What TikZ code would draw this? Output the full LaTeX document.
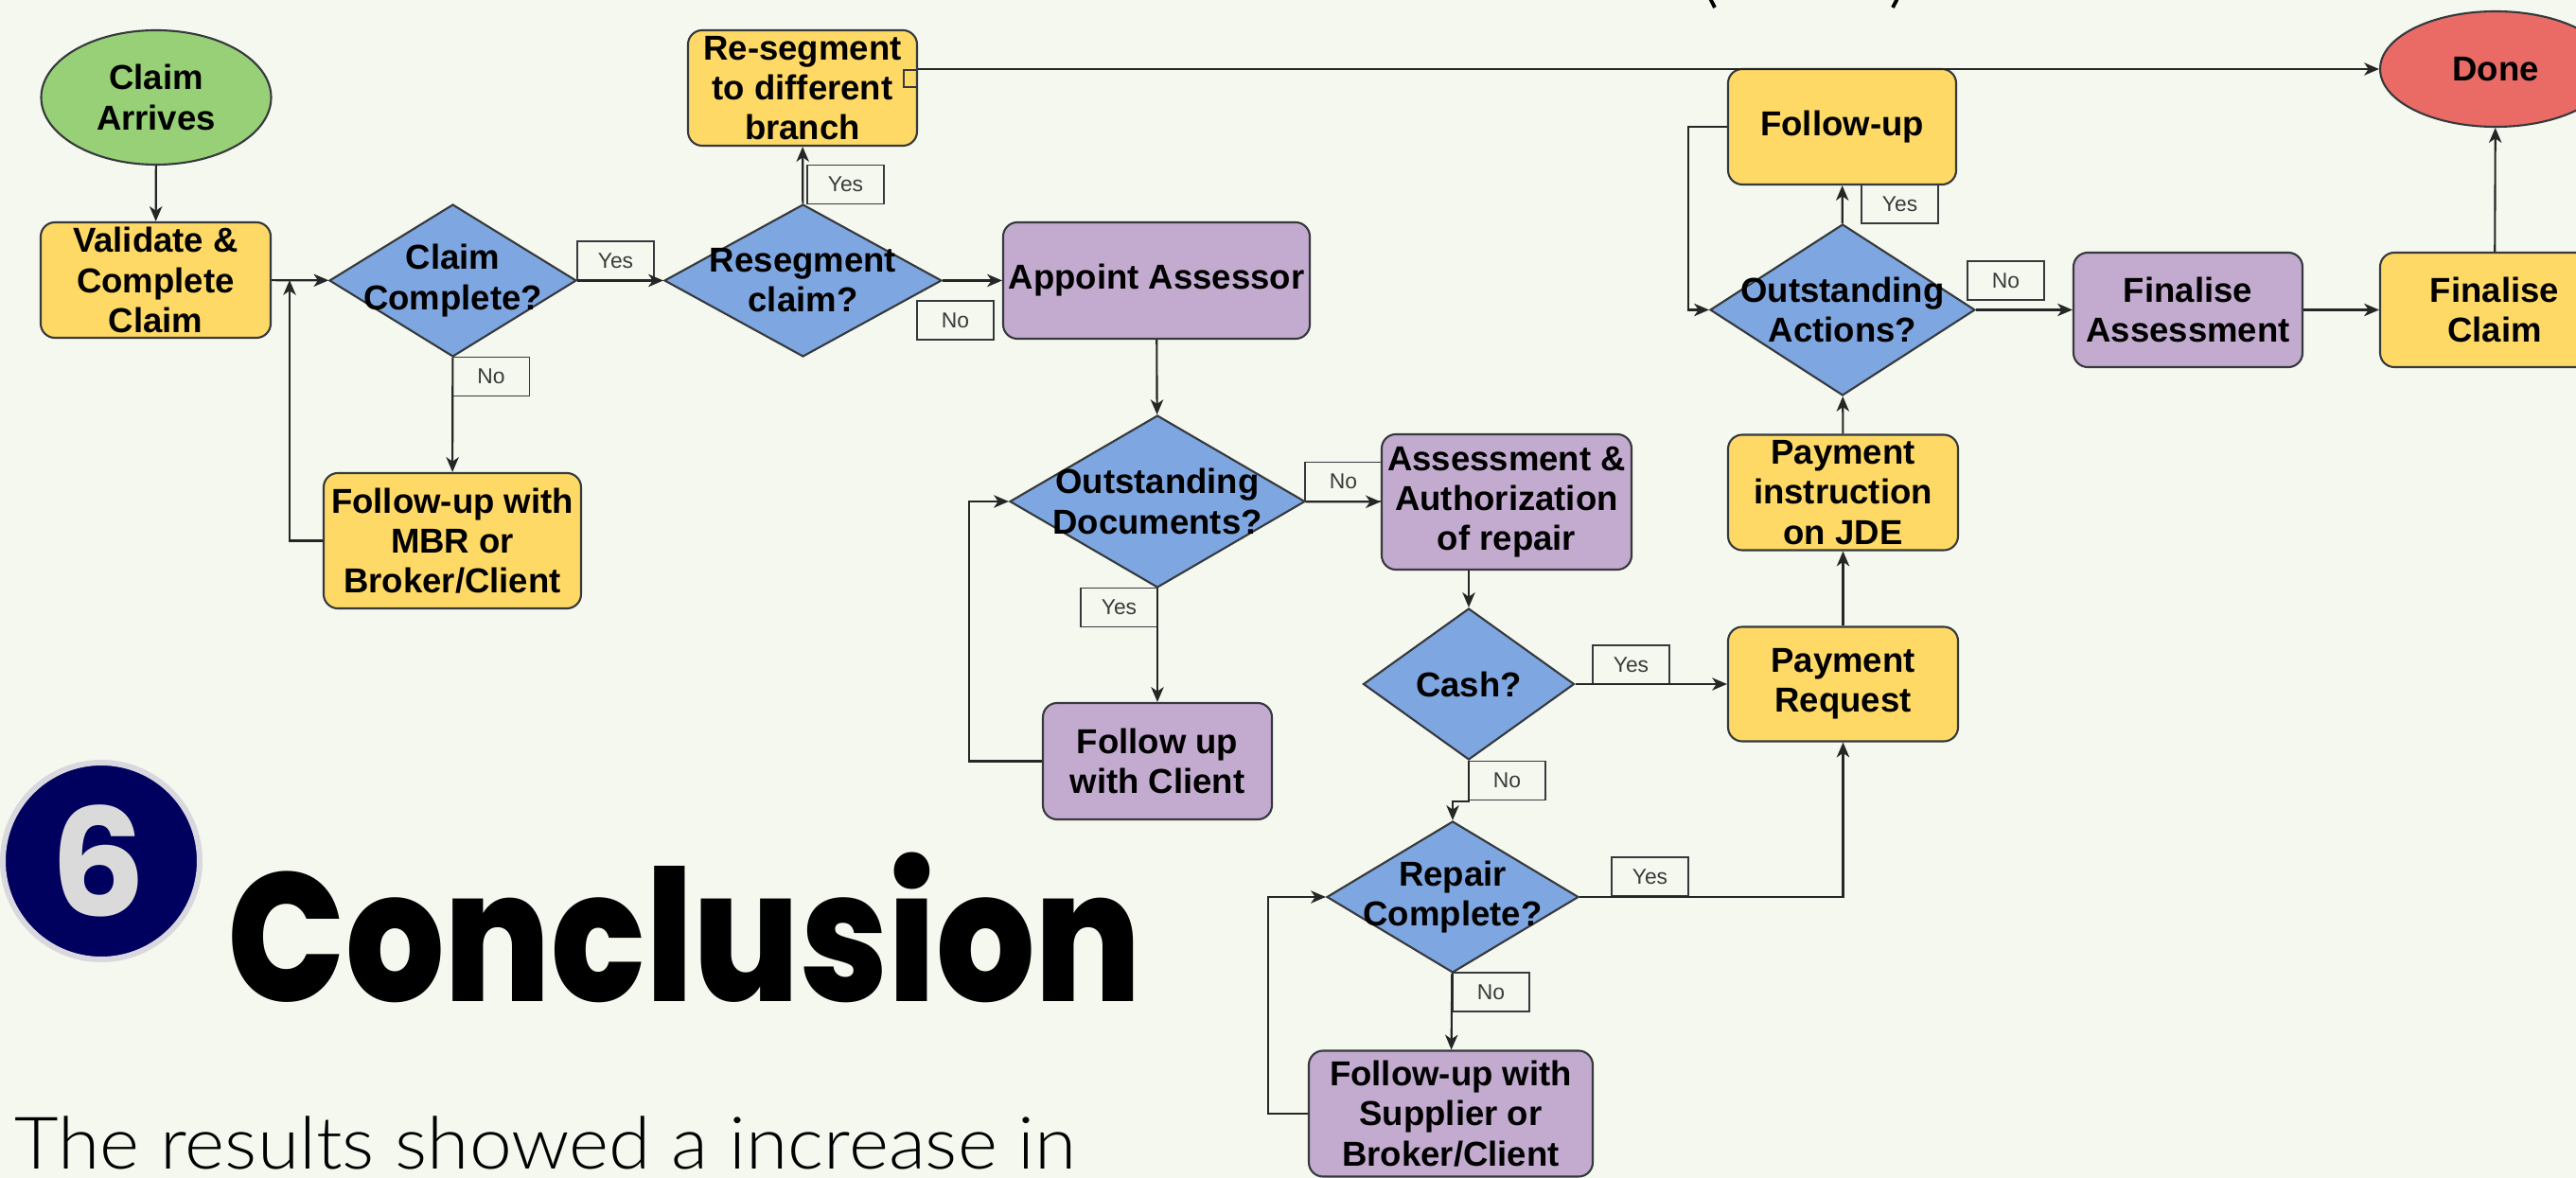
\documentclass[tikz,border=0pt]{standalone}
\usepackage{fontspec}
\usetikzlibrary{shapes.geometric,arrows.meta,calc}
\newfontfamily\arialf{Liberation Sans}
\IfFontExistsTF{Poppins ExtraBold}{\newfontfamily\popf{Poppins ExtraBold}[BoldFont=*]}{\newfontfamily\popf{Poppins}}
\newfontfamily\popg{Poppins}
\IfFontExistsTF{Lato Light}{\newfontfamily\latof{Lato Light}}{\newfontfamily\latof{Lato}}
\newcommand{\nodefnt}{\arialf\bfseries\fontsize{10.4}{12}\selectfont}
\definecolor{bg}{HTML}{F5F8EE}
\definecolor{cgreen}{HTML}{97D077}
\definecolor{cyellow}{HTML}{FFD966}
\definecolor{cblue}{HTML}{7EA6E0}
\definecolor{cpurple}{HTML}{C3ABD0}
\definecolor{cred}{HTML}{EA6B66}
\definecolor{edgec}{HTML}{36393D}
\definecolor{navy}{HTML}{00005F}
\definecolor{ringc}{HTML}{D8D8DE}
\definecolor{sixg}{HTML}{DADADA}
\definecolor{lblt}{HTML}{3A3A3A}
\tikzset{
  box/.style={draw=edgec, line width=0.6pt, rounded corners=0.15cm, inner sep=0pt, align=center, font=\nodefnt},
  yel/.style={box, fill=cyellow},
  pur/.style={box, fill=cpurple},
  dia/.style={draw=edgec, line width=0.6pt, diamond, fill=cblue, inner sep=0pt},
  dtext/.style={font=\nodefnt, align=center, inner sep=0pt},
  ell/.style={draw=edgec, line width=0.6pt, ellipse, inner sep=0pt, align=center, font=\nodefnt},
  lbl/.style={draw=edgec, line width=0.5pt, inner sep=0pt, minimum width=0.81cm, minimum height=0.41cm, font=\arialf\fontsize{6.5}{7}\selectfont, text=lblt},
  conn/.style={draw=black!85, line width=0.6pt, -{Stealth[length=4.5pt,width=3.8pt,inset=1.3pt]}},
  plain/.style={draw=black!85, line width=0.6pt}
}
\begin{document}
\begin{tikzpicture}
\useasboundingbox (0,0) rectangle (27.22,-12.45);
\fill[bg] (0,0) rectangle (27.22,-12.45);

% title fragments at the top edge
\draw[line width=1.1pt] (18.06,0.06) to[out=-80,in=115] (18.12,-0.08);
\draw[line width=1.1pt] (20.06,0.06) to[out=-100,in=65] (20.00,-0.08);

% nodes
\node[ell, fill=cgreen, minimum width=2.43cm, minimum height=1.42cm] (arrive) at (1.65,-1.03) {Claim\\Arrives};
\node[yel, minimum width=2.43cm, minimum height=1.22cm] (validate) at (1.645,-2.96) {Validate \&\\Complete\\Claim};
\node[dia, minimum width=2.61cm, minimum height=1.61cm, label={[dtext]center:Claim\\Complete?}] (cc) at (4.785,-2.965) {};
\node[yel, minimum width=2.72cm, minimum height=1.43cm] (fumbr) at (4.78,-5.715) {Follow-up with\\MBR or\\Broker/Client};
\node[dia, minimum width=2.93cm, minimum height=1.61cm, label={[dtext]center:Resegment\\claim?}] (rs) at (8.485,-2.965) {};
\node[yel, minimum width=2.42cm, minimum height=1.22cm] (reseg) at (8.48,-0.93) {Re-segment\\to different\\branch};
\node[pur, minimum width=3.24cm, minimum height=1.23cm] (appoint) at (12.22,-2.965) {Appoint Assessor};
\node[dia, minimum width=3.12cm, minimum height=1.82cm, label={[dtext]center:Outstanding\\Documents?}] (od) at (12.23,-5.30) {};
\node[pur, minimum width=2.42cm, minimum height=1.23cm] (fuc) at (12.23,-8.045) {Follow up\\with Client};
\node[pur, minimum width=2.64cm, minimum height=1.43cm] (assess) at (15.92,-5.305) {Assessment \&\\Authorization\\of repair};
\node[dia, minimum width=2.23cm, minimum height=1.60cm, label={[dtext]center:Cash?}] (cash) at (15.52,-7.23) {};
\node[dia, minimum width=2.66cm, minimum height=1.60cm, label={[dtext]center:Repair\\Complete?}] (repair) at (15.35,-9.48) {};
\node[pur, minimum width=3.00cm, minimum height=1.33cm] (fus) at (15.33,-11.77) {Follow-up with\\Supplier or\\Broker/Client};
\node[yel, minimum width=2.43cm, minimum height=1.21cm] (payreq) at (19.475,-7.23) {Payment\\Request};
\node[yel, minimum width=2.43cm, minimum height=1.22cm] (payins) at (19.475,-5.205) {Payment\\instruction\\on JDE};
\node[dia, minimum width=2.80cm, minimum height=1.81cm, label={[dtext]center:Outstanding\\Actions?}] (oa) at (19.47,-3.275) {};
\node[yel, minimum width=2.41cm, minimum height=1.22cm] (fu) at (19.465,-1.34) {Follow-up};
\node[pur, minimum width=2.42cm, minimum height=1.21cm] (finass) at (23.12,-3.275) {Finalise\\Assessment};
\node[yel, minimum width=2.42cm, minimum height=1.21cm] (fincl) at (26.36,-3.275) {Finalise\\Claim};
\node[ell, fill=cred, minimum width=2.44cm, minimum height=1.22cm] (done) at (26.37,-0.73) {Done};

% labels
\node[lbl] (l1) at (6.505,-2.755) {Yes};
\node[lbl] (l2) at (5.19,-3.98) {No};
\node[lbl] (l3) at (8.935,-1.95) {Yes};
\node[lbl] (l4) at (10.095,-3.385) {No};
\node[lbl] (l5) at (14.195,-5.09) {No};
\node[lbl] (l6) at (11.825,-6.42) {Yes};
\node[lbl] (l7) at (17.235,-7.025) {Yes};
\node[lbl] (l8) at (15.925,-8.25) {No};
\node[lbl] (l9) at (17.435,-9.265) {Yes};
\node[lbl] (l10) at (15.755,-10.485) {No};
\node[lbl] (l11) at (20.075,-2.155) {Yes};
\node[lbl] (l12) at (21.195,-2.965) {No};

% small connection marker on re-segment box
\draw[edgec, line width=0.5pt] (9.55,-0.74) rectangle (9.69,-0.92);

% connectors
\coordinate (j1) at (3.06,-2.96);
\draw[conn] (arrive) -- (validate);
\draw[conn] (validate) -- (cc);
\draw[conn] (cc) -- (fumbr);
\draw[conn] (fumbr.west) -| (j1);
\draw[conn] (cc) -- (rs);
\draw[conn] (rs) -- (reseg);
\draw[conn] (reseg.east |- done.west) -- (done.west);
\draw[conn] (rs) -- (appoint);
\draw[conn] (appoint) -- (od);
\draw[conn] (od) -- (assess);
\draw[conn] (od) -- (fuc);
\draw[conn] (fuc.west) -- ++(-0.77,0) |- (od.west);
\draw[conn] (assess.south -| cash.north) -- (cash.north);
\draw[conn] (cash) -- (payreq);
\draw[conn] (cash.south) -- ++(0,-0.43) -| (repair.north);
\draw[conn] (repair.east) -| (payreq.south);
\draw[conn] (repair) -- (fus);
\draw[conn] (fus.west) -- ++(-0.42,0) |- (repair.west);
\draw[conn] (payreq) -- (payins);
\draw[conn] (payins) -- (oa);
\draw[conn] (oa) -- (fu);
\draw[conn] (fu.west) -- ++(-0.41,0) |- (oa.west);
\draw[conn] (oa) -- (finass);
\draw[conn] (finass) -- (fincl);
\draw[conn] (fincl) -- (done);

% section badge and text
\node[circle, fill=navy, draw=ringc, line width=0.06cm, minimum size=2.08cm, inner sep=0pt] (badge) at (1.07,-9.10) {};
\node[font=\popg\bfseries\fontsize{45}{48}\selectfont, text=sixg, inner sep=0pt] (six) at (1.04,-9.10) {6};
\node[anchor=base west, inner sep=0pt, font=\popf\bfseries\fontsize{55}{60}\selectfont] (concl) at (2.40,-10.58) {\scalebox{0.85}[1]{Conclusion}};
\node[anchor=base west, inner sep=0pt, font=\latof\fontsize{21.8}{24}\selectfont] (body) at (0.15,-12.35) {\scalebox{1.05}[1]{The results showed a increase in}};
\end{tikzpicture}
\end{document}
